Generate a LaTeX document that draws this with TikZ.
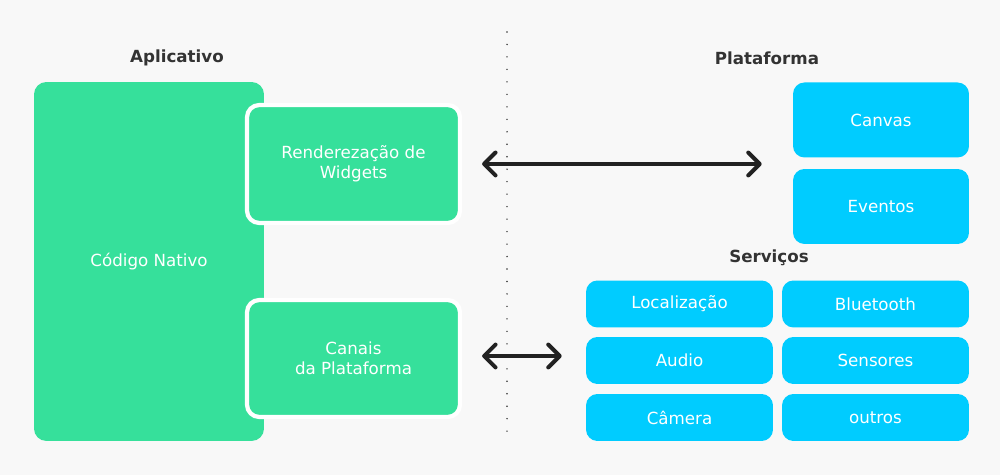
\documentclass[tikz,border=0pt]{standalone}
\usepackage{fontspec}
\setmainfont{DejaVu Sans}
\definecolor{bgGray}{RGB}{248, 248, 248}
\definecolor{appGreen}{RGB}{54, 224, 155}
\definecolor{platCyan}{RGB}{0, 204, 255}
\definecolor{titleGray}{RGB}{51, 51, 51}
\definecolor{arrowDark}{RGB}{34, 34, 34}
\usetikzlibrary{arrows.meta, positioning, calc}

\begin{document}
\begin{tikzpicture}[x=0.02cm, y=-0.02cm,
    txt/.style={font=\fontsize{9.5}{11.6}\selectfont, text=white, align=center, inner sep=0pt},
    appbox/.style={txt, fill=appGreen, rounded corners=7pt},
    layerbox/.style={appbox, draw=white, line width=2.4pt, minimum width=4.26cm, minimum height=2.36cm},
    platbox/.style={txt, fill=platCyan, rounded corners=6.5pt, minimum width=3.52cm, minimum height=1.5cm},
    servbox/.style={txt, fill=platCyan, rounded corners=6.5pt, minimum width=3.74cm, minimum height=0.94cm},
    grouptitle/.style={font=\fontsize{9.5}{11.6}\selectfont\bfseries, text=titleGray},
    biarrow/.style={{Straight Barb[length=6.5pt, width=13pt, round]}-{Straight Barb[length=6.5pt, width=13pt, round]}, line width=2.3pt, arrowDark}]

  % Background
  \fill[bgGray] (0, 0) rectangle (1000, 475);

  % Separator
  \draw[titleGray, line width=0.9pt, line cap=round, dash pattern=on 0pt off 7.1pt] (507, 32) -- (507, 440);

  % Titles
  \node[grouptitle] (appTitle) at (177, 58) {Aplicativo};
  \node[grouptitle] (platTitle) at (767, 58) {Plataforma};
  \node[grouptitle] (servTitle) at (769, 258) {Serviços};

  % Application side
  \node[appbox, minimum width=4.6cm, minimum height=7.18cm] (native) at (149, 261.5) {Código Nativo};
  \node[layerbox] (render) at (353.5, 164) {Renderezação de\\Widgets};
  \node[layerbox, minimum height=2.34cm] (channels) at (353.5, 358.5) {Canais\\da Plataforma};

  % Platform side
  \node[platbox] (canvas) at (881, 120) {Canvas};
  \node[platbox] (events) at (881, 206.5) {Eventos};

  % Services
  \node[servbox] (location) at (679.5, 304) {Localização};
  \node[servbox] (bluetooth) at (875.5, 304) {Bluetooth};
  \node[servbox] (audio) at (679.5, 360.5) {Audio};
  \node[servbox] (sensors) at (875.5, 360.5) {Sensores};
  \node[servbox] (camera) at (679.5, 417.5) {Câmera};
  \node[servbox] (others) at (875.5, 417.5) {outros};

  % Arrows
  \draw[biarrow, shorten <=0.4cm, shorten >=0.62cm] (render.east) -- (render.east -| canvas.west);
  \draw[biarrow, shorten <=0.4cm, shorten >=0.48cm] ([yshift=0.05cm]channels.east) -- ([yshift=0.05cm]channels.east -| location.west);
\end{tikzpicture}
\end{document}
